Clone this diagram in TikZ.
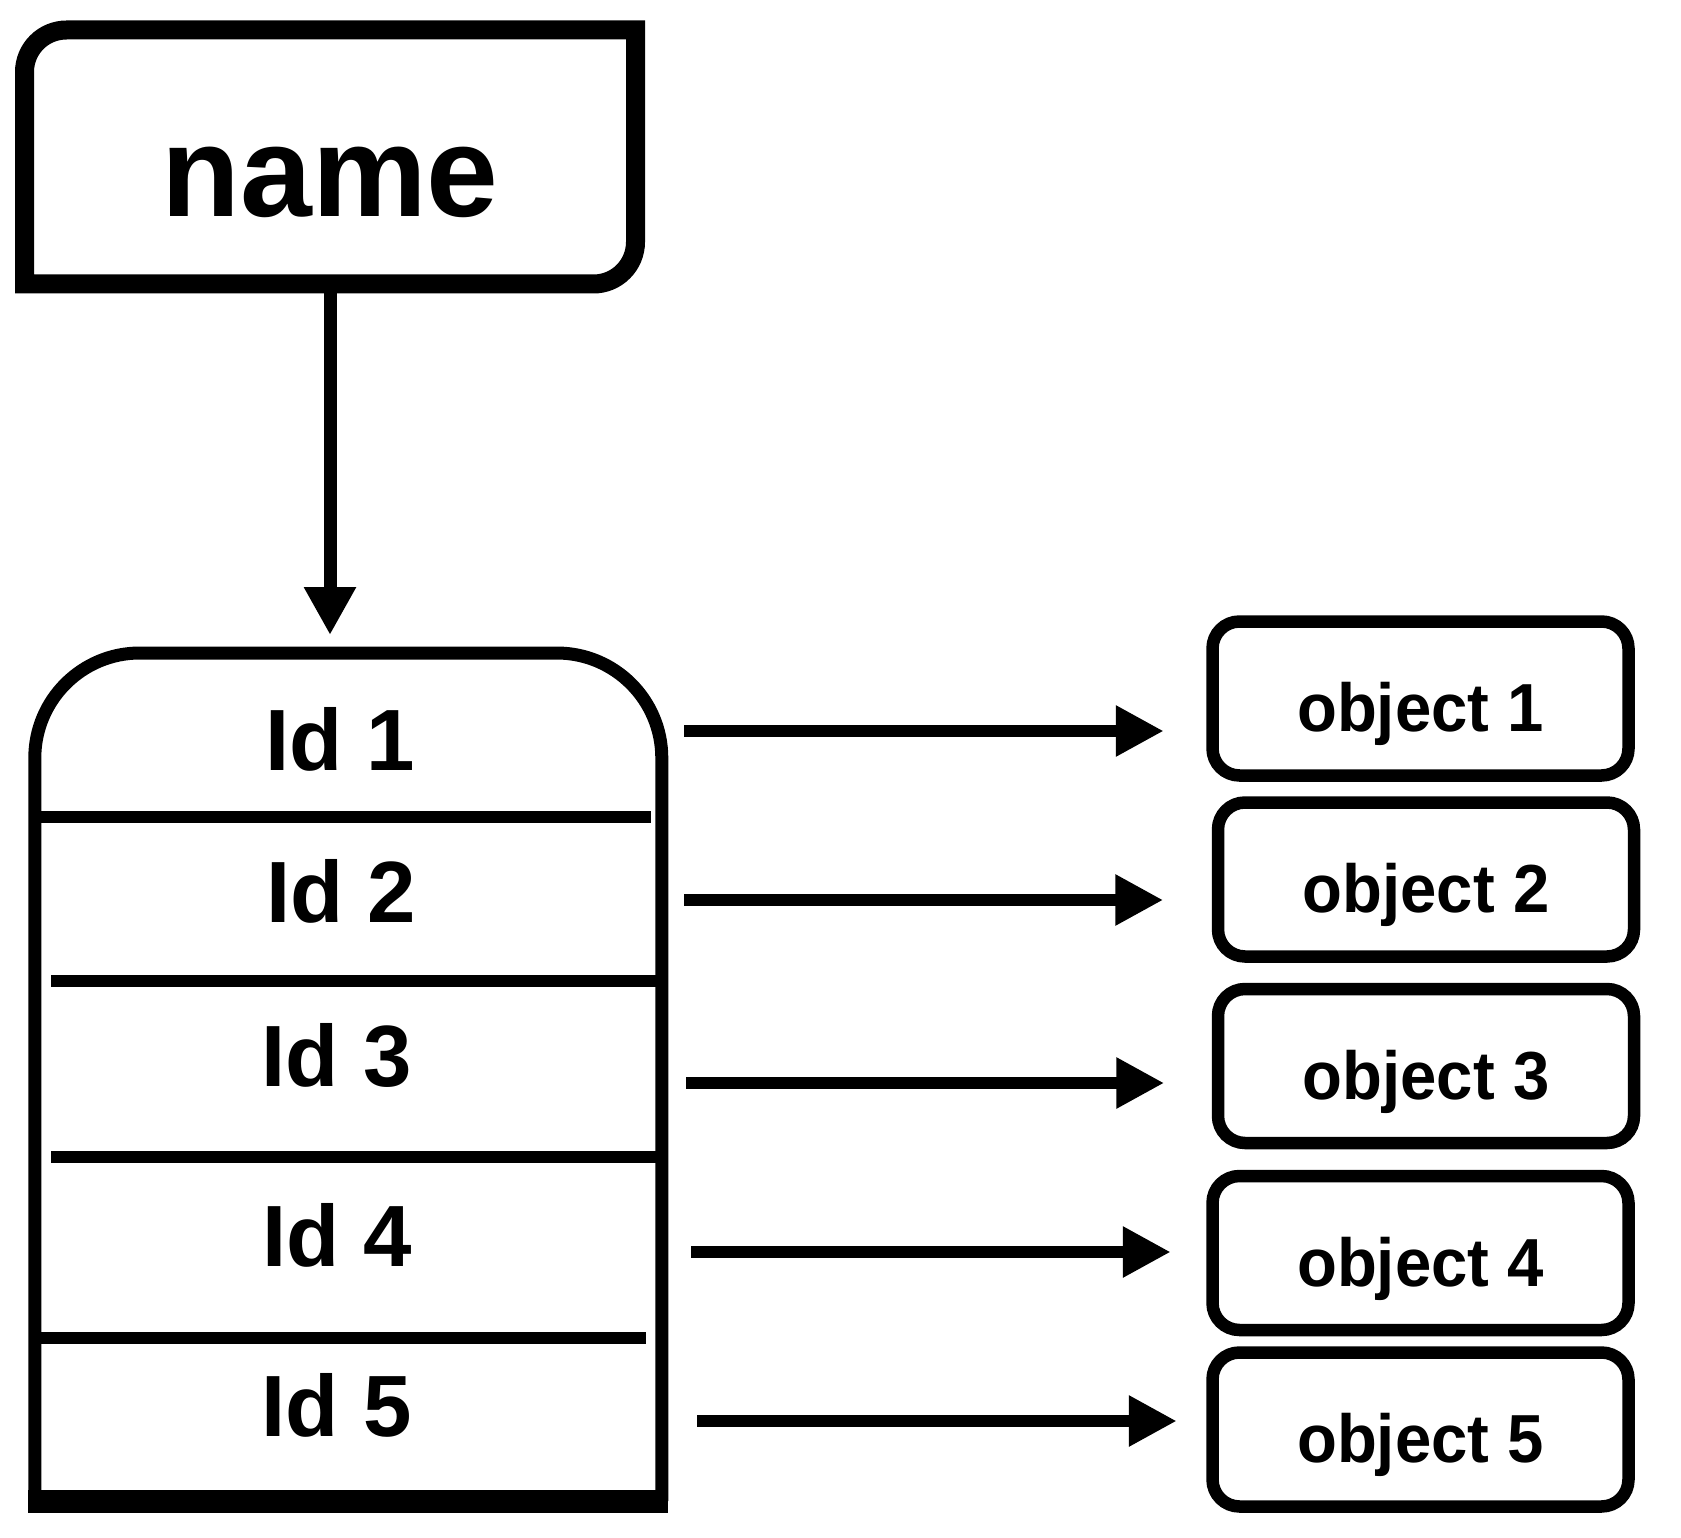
\documentclass[tikz,border=0pt]{standalone}
\usepackage{fontspec}
\setmainfont{Liberation Sans}
\newfontfamily\objfont{Liberation Sans}[FakeStretch=0.96]
\usetikzlibrary{arrows.meta,calc}
\begin{document}
\begin{tikzpicture}[x=1pt,y=-1pt,
  arr/.style={line width=12pt,-{Triangle[length=48pt,width=48pt]}},
  downarr/.style={line width=13pt,-{Triangle[length=48pt,width=49pt]}},
  objbox/.style={draw,line width=12.5pt,rounded corners=27pt,minimum width=416pt,minimum height=154pt,
    text height=66pt,text depth=0pt,inner sep=0pt,anchor=base,font=\objfont\bfseries\fontsize{68}{68}\selectfont},
  idlab/.style={anchor=base,inner sep=0pt,font=\bfseries\fontsize{87}{87}\selectfont},
  divider/.style={line width=12.5pt},
  holder/.style={draw=none,inner sep=0pt,outer sep=0pt},
]
\useasboundingbox (0,0) rectangle (1681,1538);
\fill[white] (0,0) rectangle (1681,1538);

% name box
\node[holder,minimum width=611pt,minimum height=254pt,text height=120pt,text depth=0pt,anchor=base,
  font=\bfseries\fontsize{129}{129}\selectfont] (nb) at (330,217) {name};
\draw[line width=19pt] (nb.south west) -- ($(nb.north west)+(0,42)$)
  arc[start angle=180,end angle=270,radius=42] -- (nb.north east)
  -- ($(nb.south east)+(0,-42)$) arc[start angle=0,end angle=90,radius=42] -- cycle;

% id container
\node[holder,minimum width=627pt,minimum height=848pt] (idbox) at (348.3,1077) {};
\draw[line width=13pt] (idbox.south west) -- ($(idbox.north west)+(0,105)$)
  arc[start angle=180,end angle=270,radius=105] -- ($(idbox.north east)+(-105,0)$)
  arc[start angle=270,end angle=360,radius=105] -- (idbox.south east);
\fill ($(idbox.south west)+(-6.5,-11.5)$) rectangle ($(idbox.south east)+(6.5,11.5)$);
\draw[divider] (41,817) -- (651,817);
\draw[divider] (51,981) -- (656,981);
\draw[divider] (51,1157) -- (656,1157);
\draw[divider] (41,1338) -- (646,1338);

\node[idlab] (id1) at (340,770) {Id 1};
\node[idlab] (id2) at (341,922) {Id 2};
\node[idlab] (id3) at (336.5,1086) {Id 3};
\node[idlab] (id4) at (337,1266) {Id 4};
\node[idlab] (id5) at (336.5,1436.5) {Id 5};

\draw[downarr,shorten >=18pt] (nb.south) -- (nb.south |- idbox.north);

% objects
\node[objbox] (obj1) at (1420.5,731.5) {object 1};
\node[objbox] (obj2) at (1426,912.5) {object 2};
\node[objbox] (obj3) at (1426,1099) {object 3};
\node[objbox] (obj4) at (1420.5,1286) {object 4};
\node[objbox] (obj5) at (1420.5,1462.5) {object 5};

\coordinate (a1) at (684,731);
\coordinate (a2) at (684,900);
\coordinate (a3) at (686,1083);
\coordinate (a4) at (691,1252);
\coordinate (a5) at (697,1421);
\draw[arr,shorten >=42.5pt] (a1) -- (a1 -| obj1.west);
\draw[arr,shorten >=48.5pt] (a2) -- (a2 -| obj2.west);
\draw[arr,shorten >=47.5pt] (a3) -- (a3 -| obj3.west);
\draw[arr,shorten >=35.5pt] (a4) -- (a4 -| obj4.west);
\draw[arr,shorten >=29.5pt] (a5) -- (a5 -| obj5.west);
\end{tikzpicture}
\end{document}
